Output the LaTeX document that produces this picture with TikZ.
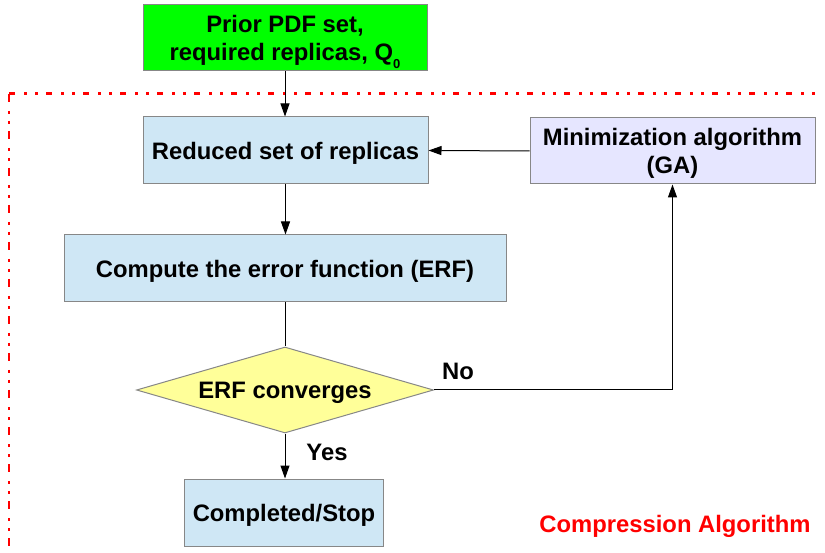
\documentclass[tikz,border=0pt]{standalone}
\usepackage{fontspec}
\setmainfont{Liberation Sans}
\usetikzlibrary{shapes.geometric,arrows.meta}
\definecolor{boxgreen}{RGB}{0,255,0}
\definecolor{boxblue}{RGB}{207,231,245}
\definecolor{boxlav}{RGB}{230,230,255}
\definecolor{boxyel}{RGB}{255,255,153}
\definecolor{boxline}{RGB}{135,135,135}
\definecolor{redline}{RGB}{255,0,0}
\tikzset{
  txt/.style={font=\fontsize{23.8}{28.5}\selectfont\bfseries, align=center, text depth=0pt},
  procbox/.style={txt, draw=boxline, line width=1pt, rectangle, inner sep=0pt},
  decbox/.style={txt, draw=boxline, line width=1pt, diamond, aspect=3.45, inner sep=0pt, fill=boxyel},
  conn/.style={draw=black, line width=1pt},
  arr/.style={conn, -{Triangle[length=13pt,width=9pt]}},
  lbl/.style={txt},
  frameh/.style={draw=redline, line width=3pt, dash pattern=on 6pt off 9pt on 3pt off 8pt on 3pt off 8pt},
  framev/.style={draw=redline, line width=2.5pt, dash pattern=on 8pt off 9pt on 3pt off 7pt on 3pt off 7pt},
}
\begin{document}
\begin{tikzpicture}[x=1pt,y=-1pt]
\useasboundingbox (0,0) rectangle (825,553);
% frame
\coordinate (fc) at (9,94);
\coordinate (fr) at (821,94);
\coordinate (fb) at (9,553);
\draw[frameh] (fc) -- (fr);
\draw[framev] (fc) -- (fb);
% nodes
\node[procbox, fill=boxgreen, minimum width=284pt, minimum height=66pt] (prior) at (285,38)
  {Prior PDF set,\\required replicas, Q\raisebox{-0.3em}{\fontsize{13}{13}\selectfont 0}};
\node[procbox, fill=boxblue, minimum width=285pt, minimum height=67pt] (reduced) at (285.5,150.5)
  {Reduced set of replicas};
\node[procbox, fill=boxlav, minimum width=285pt, minimum height=66pt] (mini) at (672.5,151)
  {Minimization algorithm\\(GA)};
\node[procbox, fill=boxblue, minimum width=442pt, minimum height=67pt] (erf) at (285,268.5)
  {Compute the error function (ERF)};
\node[decbox, minimum width=297pt, minimum height=86pt] (conv) at (285,390)
  {ERF converges};
\node[procbox, fill=boxblue, minimum width=199pt, minimum height=67pt] (done) at (284,512.5)
  {Completed/Stop};
% connectors
\draw[arr] (prior.south) -- (prior.south |- reduced.north);
\draw[arr] (mini.west) -- (reduced.east);
\draw[arr] (reduced.south) -- (reduced.south |- erf.north);
\draw[conn] (erf.south) -- (erf.south |- conv.north);
\draw[arr] (conv.east) -| (mini.south);
\draw[arr] (conv.south) -- (conv.south |- done.north);
% labels
\node[lbl] (no) at (458,371) {No};
\node[lbl] (yes) at (327,452) {Yes};
\node[lbl, text=redline] (title) at (675,524) {Compression Algorithm};
\end{tikzpicture}
\end{document}
